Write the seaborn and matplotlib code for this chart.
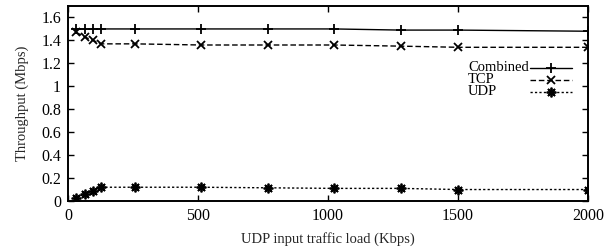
import matplotlib
matplotlib.use("Agg")
import matplotlib.pyplot as plt
import seaborn as sns
import pandas as pd

load_kbps = [32, 64, 96, 128, 256, 512, 768, 1024, 1280, 1500, 2000]
combined = [1.50, 1.50, 1.50, 1.50, 1.50, 1.50, 1.50, 1.50, 1.49, 1.49, 1.48]
tcp = [1.47, 1.43, 1.40, 1.37, 1.37, 1.36, 1.36, 1.36, 1.35, 1.34, 1.34]
udp = [0.03, 0.06, 0.09, 0.12, 0.12, 0.12, 0.115, 0.11, 0.11, 0.10, 0.10]
series_names = ["Combined", "TCP", "UDP"]
xticks = [0, 500, 1000, 1500, 2000]
yticks = [0, 0.2, 0.4, 0.6, 0.8, 1.0, 1.2, 1.4, 1.6]
ytick_labels = ["0", "0.2", "0.4", "0.6", "0.8", "1", "1.2", "1.4", "1.6"]

sns.set_style("ticks")
plt.rcParams["font.family"] = ["Liberation Serif", "DejaVu Serif"]
plt.rcParams["font.size"] = 10.5

df = pd.DataFrame({
    "load": load_kbps * 3,
    "thr": combined + tcp + udp,
    "series": [series_names[0]] * len(load_kbps) + [series_names[1]] * len(load_kbps) + [series_names[2]] * len(load_kbps),
})

fig = plt.figure(figsize=(6.14, 2.49), dpi=100)
ax = fig.add_axes([68 / 614, 48 / 249, 520 / 614, 195 / 249])

styles = {
    "Combined": dict(marker="+", dashes=None, ms=7),
    "TCP": dict(marker="x", dashes=(4, 2), ms=6),
    "UDP": dict(marker=(8, 2, 0), dashes=(1.6, 1.6), ms=7),
}
for i, name in enumerate(series_names):
    st = styles[name]
    sub = df[df["series"] == name]
    sns.lineplot(data=sub, x="load", y="thr", ax=ax, color="black", lw=1.0,
                 marker=st["marker"], markersize=st["ms"], markeredgewidth=1.3,
                 markeredgecolor="black", legend=False)
    line = ax.get_lines()[-1]
    if st["dashes"] is not None:
        line.set_dashes(st["dashes"])
    # gnuplot-style key: left-aligned label followed by a line sample
    yk = 0.684 - i * 0.062
    ax.text(0.769, yk, name, transform=ax.transAxes, ha="left", va="center",
            fontsize=10.5, color="black")
    kl, = ax.plot([0.888, 0.969], [yk, yk], transform=ax.transAxes, color="black", lw=1.0)
    if st["dashes"] is not None:
        kl.set_dashes(st["dashes"])
    ax.plot([0.928], [yk], transform=ax.transAxes, color="black", marker=st["marker"],
            markersize=st["ms"], markeredgewidth=1.3, linestyle="none")

ax.set_xlim(0, 2000)
ax.set_ylim(0, 1.7)
ax.set_xticks(xticks)
ax.set_xticklabels([str(t) for t in xticks])
ax.set_yticks(yticks)
ax.set_yticklabels(ytick_labels)
ax.tick_params(direction="in", length=4, width=1.0, top=True, right=True, labelsize=11.5, colors="black", pad=5)
for s in ax.spines.values():
    s.set_linewidth(1.4)
    s.set_color("black")
ax.set_xlabel("UDP input traffic load (Kbps)", fontsize=10.5, labelpad=6)
ax.set_ylabel("Throughput (Mbps)", fontsize=10.5, labelpad=9)

fig.savefig("out.png", dpi=100)
